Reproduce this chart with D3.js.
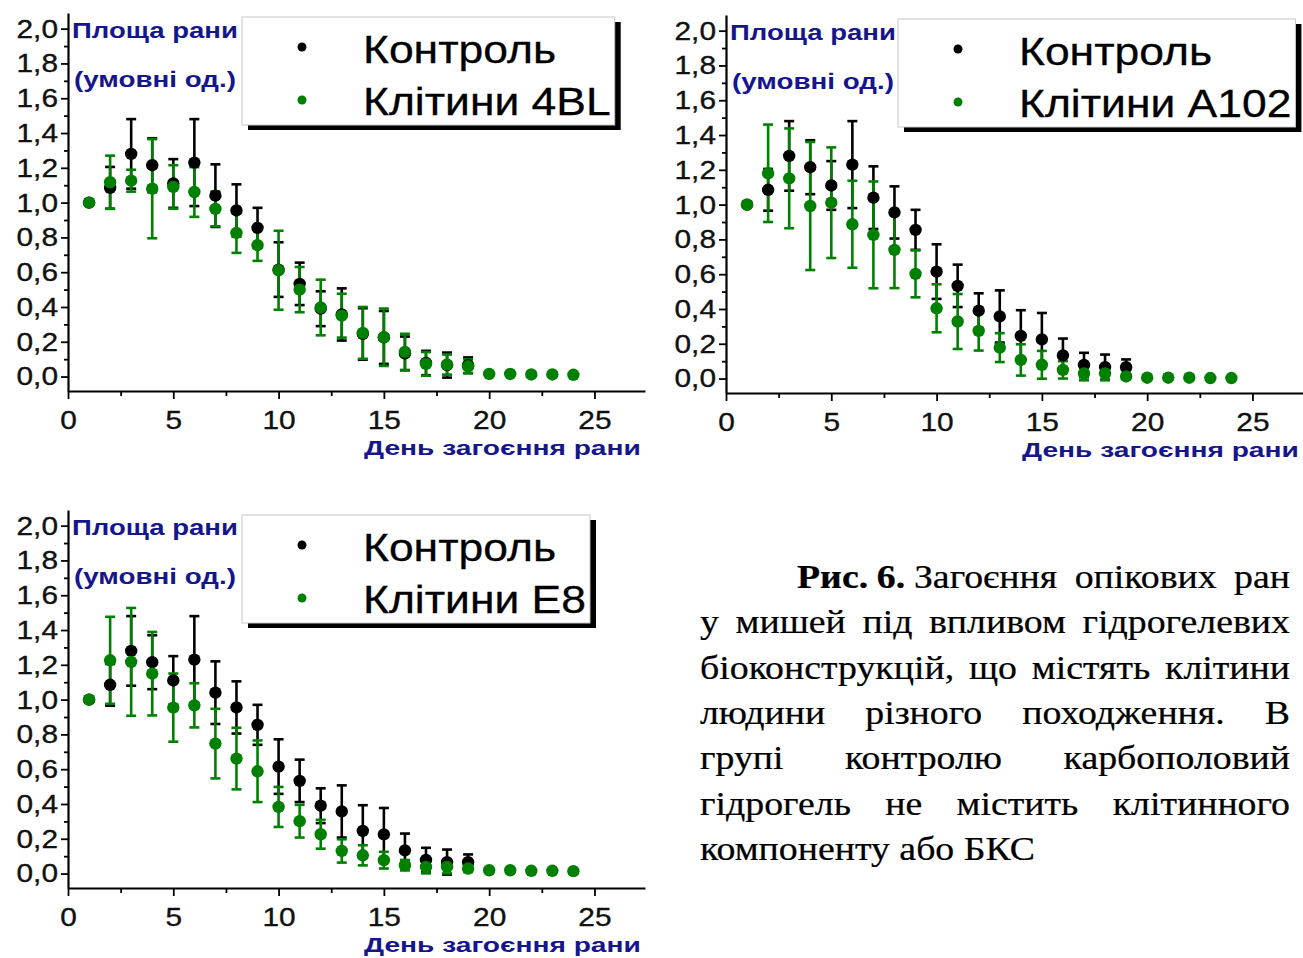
<!DOCTYPE html>
<html><head><meta charset="utf-8">
<script src="https://cdn.jsdelivr.net/npm/d3@7"></script>
<style>html,body{margin:0;padding:0;background:#fff;} svg{display:block;}</style>
</head><body><svg id="c" width="1303" height="958"></svg>
<script>
// ---------------- DATA ----------------
const days = [1,2,3,4,5,6,7,8,9,10,11,12,13,14,15,16,17,18,19,20,21,22,23,24];
const controlMean = [1.0,1.085,1.28,1.215,1.11,1.23,1.04,0.955,0.855,0.615,0.533,0.39,0.357,0.245,0.225,0.133,0.078,0.066,0.065];
const controlErr  = [0,0.12,0.2,0.155,0.14,0.25,0.18,0.15,0.115,0.157,0.122,0.1,0.15,0.148,0.152,0.097,0.07,0.072,0.045];
const cells4BLMean = [1.0,1.117,1.126,1.08,1.09,1.061,0.964,0.826,0.755,0.611,0.5,0.397,0.35,0.251,0.226,0.142,0.073,0.069,0.059,0.015,0.015,0.012,0.012,0.01];
const cells4BLErr  = [0,0.153,0.063,0.285,0.125,0.143,0.1,0.115,0.09,0.227,0.13,0.16,0.126,0.149,0.165,0.104,0.068,0.058,0.04,0,0,0,0,0];
const cellsA102Mean = [1.0,1.18,1.151,0.992,1.011,0.887,0.826,0.74,0.602,0.404,0.328,0.274,0.178,0.107,0.079,0.05,0.03,0.03,0.012,0.005,0.005,0.005,0.003,0.003];
const cellsA102Err  = [0,0.28,0.287,0.368,0.318,0.25,0.307,0.22,0.135,0.138,0.158,0.113,0.083,0.09,0.08,0.05,0.04,0.04,0.01,0,0,0,0,0];
const cellsE8Mean = [1.0,1.226,1.217,1.149,0.954,0.967,0.747,0.661,0.588,0.383,0.301,0.226,0.13,0.105,0.077,0.048,0.038,0.038,0.029,0.019,0.019,0.016,0.016,0.014];
const cellsE8Err  = [0,0.25,0.31,0.24,0.196,0.127,0.2,0.177,0.177,0.115,0.094,0.083,0.067,0.058,0.048,0.03,0.037,0.037,0.02,0,0,0,0,0];
const seriesNames = ["Контроль", "Клітини 4BL", "Клітини A102", "Клітини E8"];
const yTicks = [0,0.2,0.4,0.6,0.8,1.0,1.2,1.4,1.6,1.8,2.0];
const yMinorTicks = [0.1,0.3,0.5,0.7,0.9,1.1,1.3,1.5,1.7,1.9];
const xTicks = [0,5,10,15,20,25];
const xMinorTicks = [2.5,7.5,12.5,17.5,22.5];
const yTitleLines = ["Площа рани", "(умовні од.)"];
const xTitle = "День загоєння рани";
const captionLines = [
  "Рис. 6. Загоєння  опікових  ран",
  "у  мишей  під  впливом  гідрогелевих",
  "біоконструкцій,  що  містять  клітини",
  "людини  різного  походження.  В",
  "групі  контролю  карбополовий",
  "гідрогель  не  містить  клітинного",
  "компоненту або БКС"
];
const captionBold = ["Рис.", "6."];

// ---------------- STYLE / LAYOUT ----------------
const SANS = "'Liberation Sans', Arial, sans-serif";
const SERIF = "'Liberation Serif', 'Times New Roman', serif";
const SX = 1.17;
const BLACK = "#000";
const GREEN = "#008000";
const NAVY = "#16168c";
const TICKCOL = "#111";

const svg = d3.select("#c");
svg.append("rect").attr("width",1303).attr("height",958).attr("fill","#fff");

function stext(parent, x, y, str, size, o = {}) {
  return parent.append("text")
    .attr("transform", `translate(${x},${y}) scale(${o.sx || SX},1)`)
    .attr("font-family", o.family || SANS)
    .attr("font-size", size)
    .attr("font-weight", o.weight || "normal")
    .attr("fill", o.fill || "#000")
    .attr("text-anchor", o.anchor || "start")
    .text(str);
}
// text stretched horizontally to a given width
function ftext(parent, x, y, str, size, width, o = {}) {
  const t = stext(parent, x, y, str, size, Object.assign({}, o, { sx: 1 }));
  const sx = width / t.node().getComputedTextLength();
  t.attr("transform", `translate(${x},${y}) scale(${sx},1)`);
  return t;
}

const panels = [
  { mean: cells4BLMean, err: cells4BLErr, name: seriesNames[1], left: 68, top: 13, bottom: 391, legX: 242, legY: 17 },
  { mean: cellsA102Mean, err: cellsA102Err, name: seriesNames[2], left: 726, top: 15, bottom: 393, legX: 898, legY: 19 },
  { mean: cellsE8Mean, err: cellsE8Err, name: seriesNames[3], left: 68, top: 510, bottom: 888, legX: 242, legY: 515 }
];

panels.forEach(p => {
  const g = svg.append("g");
  const x = d3.scaleLinear().domain([0, 27.4]).range([p.left, p.left + 577]);
  const y = d3.scaleLinear().domain([-0.083, 2.09]).range([p.bottom, p.top]);

  // axes
  const xa = g.append("g").attr("transform", `translate(0,${p.bottom})`)
    .call(d3.axisBottom(x).tickValues(xTicks).tickSize(8).tickSizeOuter(0));
  const xm = g.append("g").attr("transform", `translate(0,${p.bottom})`)
    .call(d3.axisBottom(x).tickValues(xMinorTicks).tickSize(5).tickFormat("").tickSizeOuter(0));
  xm.select(".domain").remove();
  const ya = g.append("g").attr("transform", `translate(${p.left},0)`)
    .call(d3.axisLeft(y).tickValues(yTicks).tickSize(7).tickSizeOuter(0)
      .tickFormat(d => d.toFixed(1).replace(".", ",")));
  const ym = g.append("g").attr("transform", `translate(${p.left},0)`)
    .call(d3.axisLeft(y).tickValues(yMinorTicks).tickSize(4).tickFormat("").tickSizeOuter(0));
  ym.select(".domain").remove();
  [xa, xm, ya, ym].forEach(a => {
    a.selectAll(".domain").attr("stroke", BLACK).attr("stroke-width", 2.2);
    a.selectAll(".tick line").attr("stroke", BLACK).attr("stroke-width", 1.8);
  });
  xa.selectAll(".tick text").attr("font-family", SANS).attr("font-size", 25.5).attr("fill", TICKCOL)
    .attr("stroke", TICKCOL).attr("stroke-width", 0.35)
    .attr("y", 38).attr("dy", 0).attr("transform", `scale(${SX},1)`);
  ya.selectAll(".tick text").attr("font-family", SANS).attr("font-size", 25.5).attr("fill", TICKCOL)
    .attr("stroke", TICKCOL).attr("stroke-width", 0.35)
    .attr("x", -10 / SX).attr("dy", "0.33em").attr("transform", `scale(${SX},1)`);

  // titles
  ftext(g, p.left + 4, p.top + 25, yTitleLines[0], 22, 166, { weight: "bold", fill: NAVY });
  ftext(g, p.left + 6, p.top + 74, yTitleLines[1], 22, 162, { weight: "bold", fill: NAVY });
  ftext(g, p.left + 296, p.bottom + 64, xTitle, 20.5, 277, { weight: "bold", fill: NAVY });

  // data
  const ctrl = controlMean.map((m, i) => ({ d: days[i], m, e: controlErr[i] }));
  const cells = p.mean.map((m, i) => ({ d: days[i], m, e: p.err[i] }));
  function bars(data, col) {
    const bg = g.append("g").attr("stroke", col).attr("stroke-width", 2.6);
    data.filter(o => o.e > 0).forEach(o => {
      const cx = x(o.d), y1 = y(o.m - o.e), y2 = y(o.m + o.e);
      bg.append("line").attr("x1", cx).attr("x2", cx).attr("y1", y1).attr("y2", y2);
      bg.append("line").attr("x1", cx - 5).attr("x2", cx + 5).attr("y1", y1).attr("y2", y1);
      bg.append("line").attr("x1", cx - 5).attr("x2", cx + 5).attr("y1", y2).attr("y2", y2);
    });
  }
  function dots(data, col) {
    g.append("g").selectAll("circle").data(data).join("circle")
      .attr("cx", o => x(o.d)).attr("cy", o => y(o.m)).attr("r", 6.2).attr("fill", col);
  }
  bars(ctrl, BLACK);
  bars(cells, GREEN);
  dots(ctrl, BLACK);
  dots(cells, GREEN);

  // legend
  const lg = g.append("g");
  const t1 = stext(lg, p.legX + 121, p.legY + 46, seriesNames[0], 38);
  const t2 = stext(lg, p.legX + 121, p.legY + 98, p.name, 38);
  [t1, t2].forEach(t => t.attr("stroke", "#000").attr("stroke-width", 0.3));
  const w = Math.max(t1.node().getComputedTextLength(), t2.node().getComputedTextLength()) * SX;
  const bw = 121 + w + 4, bh = 108;
  lg.insert("rect", ":first-child").attr("x", p.legX).attr("y", p.legY).attr("width", bw).attr("height", bh)
    .attr("fill", "#fff").attr("stroke", "#c8c8c8").attr("stroke-width", 1);
  lg.insert("rect", ":first-child").attr("x", p.legX + 6).attr("y", p.legY + 5).attr("width", bw).attr("height", bh)
    .attr("fill", BLACK);
  lg.append("circle").attr("cx", p.legX + 60).attr("cy", p.legY + 30).attr("r", 4.5).attr("fill", BLACK);
  lg.append("circle").attr("cx", p.legX + 60).attr("cy", p.legY + 83).attr("r", 4.5).attr("fill", GREEN);
});

// ---------------- CAPTION ----------------
(function caption() {
  const cg = svg.append("g");
  const FS = 33, LEFT = 700, RIGHT = 1290, INDENT = 797, TOP = 588, LH = 45.3;
  const probe = cg.append("text").attr("font-family", SERIF).attr("font-size", FS)
    .attr("xml:space", "preserve").text(captionLines[captionLines.length - 1]);
  const natural = probe.node().getComputedTextLength();
  probe.remove();
  const sx = 335 / natural;
  const spaceW = FS * 0.25 * sx;
  captionLines.forEach((line, i) => {
    const by = TOP + i * LH;
    const tokens = line.split(" ");
    const words = [], gaps = [];
    let pending = 0;
    tokens.forEach(t => {
      if (t === "") { pending++; return; }
      if (words.length) gaps.push(pending + 1);
      words.push(t); pending = 0;
    });
    const els = words.map(wd => {
      const bold = i === 0 && captionBold.includes(wd);
      return stext(cg, 0, by, wd, FS, { family: SERIF, sx, weight: bold ? "bold" : "normal" })
        .attr("stroke", "#000").attr("stroke-width", 0.25);
    });
    const widths = els.map(e => e.node().getComputedTextLength() * sx);
    const start = i === 0 ? INDENT : LEFT;
    const last = i === captionLines.length - 1;
    const totalW = d3.sum(widths), totalG = d3.sum(gaps);
    const unit = last ? spaceW : (RIGHT - start - totalW) / Math.max(1, totalG);
    let cx = start;
    els.forEach((e, k) => {
      e.attr("transform", `translate(${cx},${by}) scale(${sx},1)`);
      cx += widths[k] + (k < gaps.length ? gaps[k] * unit : 0);
    });
  });
})();
</script>
</body></html>
